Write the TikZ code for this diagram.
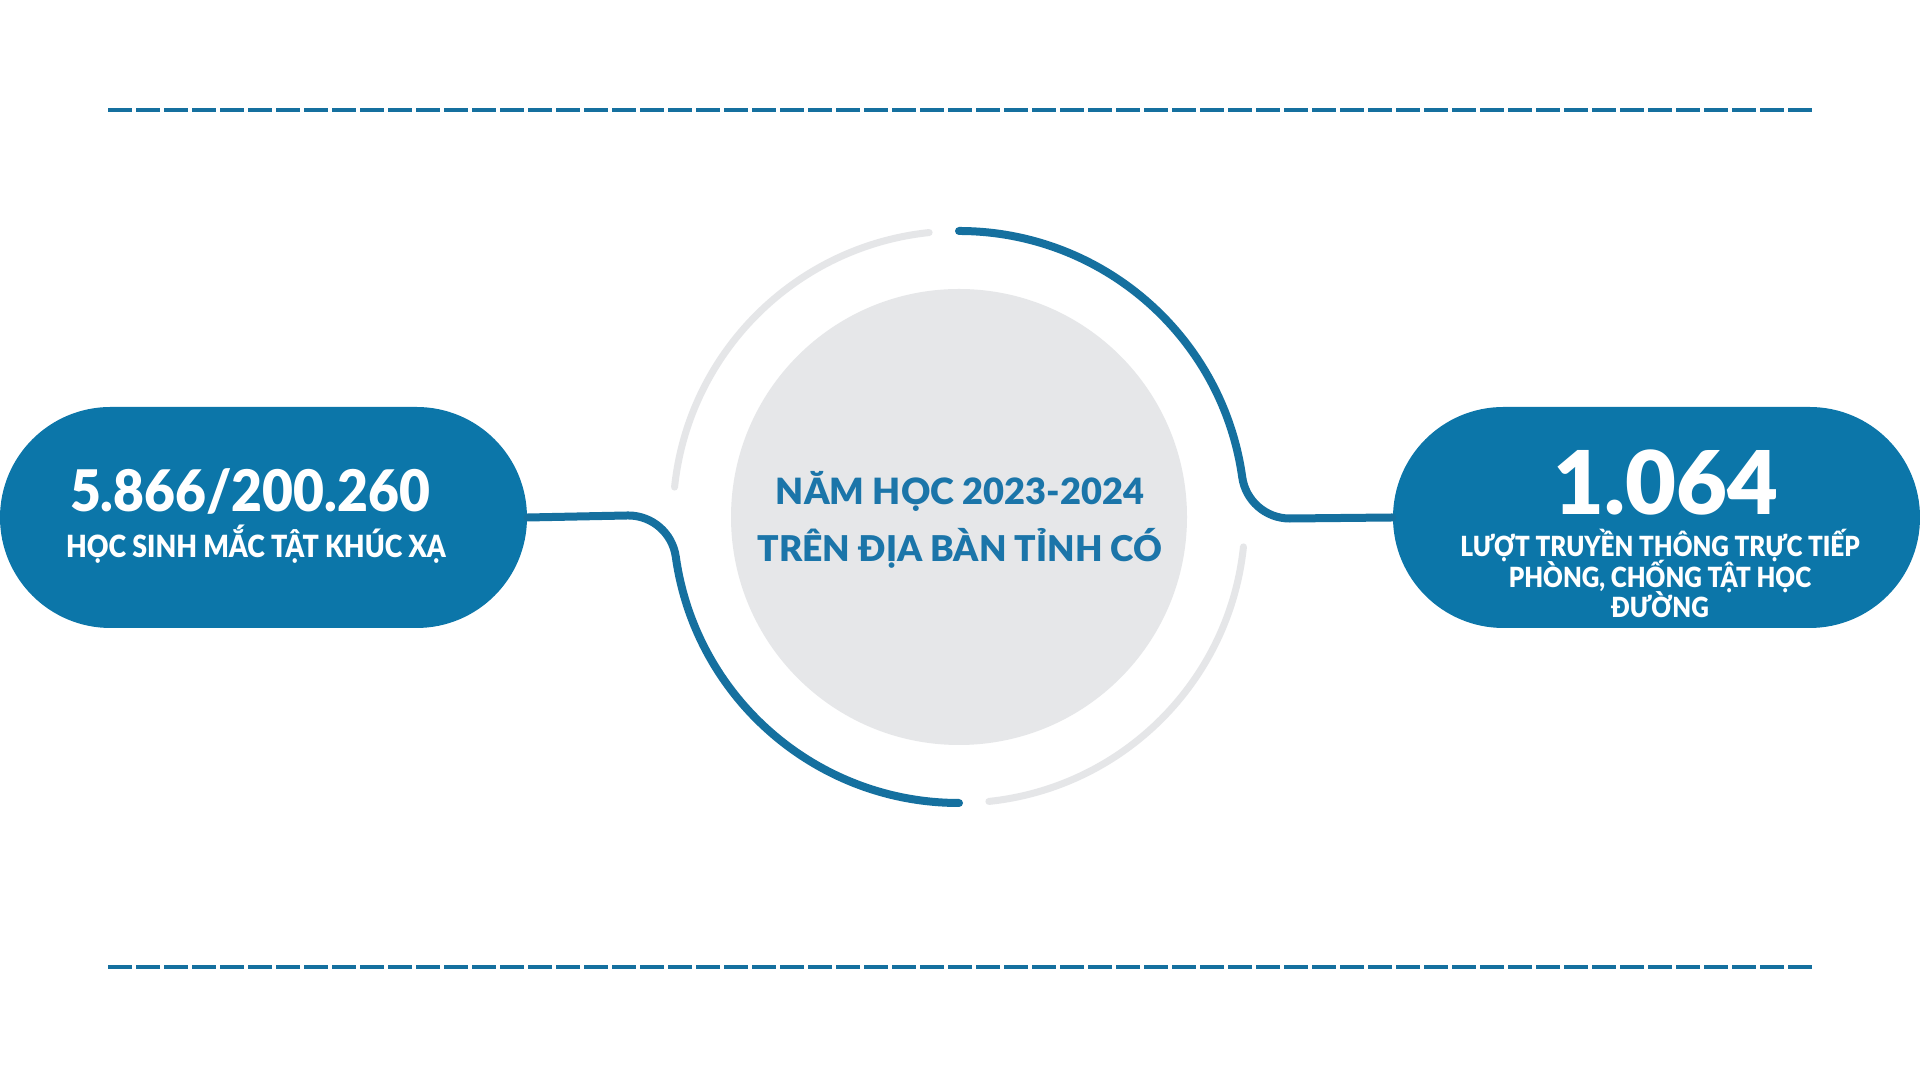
\documentclass[tikz,border=0pt]{standalone}
\usepackage{fontspec}
\setmainfont{Lato}[BoldFont={Lato Black}]
\newfontfamily\hubfont{Lato Black}
\newfontfamily\numfont{Lato Black}[FakeStretch=0.93]
\newfontfamily\capfont{Lato Black}[FakeStretch=0.875]
\usetikzlibrary{shapes.misc}
\definecolor{pillblue}{RGB}{12,118,169}
\definecolor{lineblue}{RGB}{21,112,159}
\definecolor{textblue}{RGB}{27,117,169}
\definecolor{discgray}{RGB}{230,231,233}
\definecolor{ringgray}{RGB}{229,230,232}
\lineskiplimit=-20pt
\begin{document}
\begin{tikzpicture}[pill/.style={rounded rectangle, fill=pillblue, minimum width=5.27cm, minimum height=2.21cm, inner sep=0pt},
        link/.style={draw=lineblue, line width=0.08cm, line cap=round},
        ring/.style={draw=ringgray, line width=0.07cm, line cap=round},
        rule/.style={draw=lineblue, line width=0.04cm, dash pattern=on 0.24cm off 0.04cm},
        label/.style={anchor=base, inner sep=0pt}]
        \useasboundingbox (0,0) rectangle (19.2,10.8);
        \fill[white] (0,0) rectangle (19.2,10.8);
        \draw[rule] (1.08,9.70) -- (18.12,9.70);
        \draw[rule] (1.08,1.13) -- (18.12,1.13);
        \node at (9.59,5.63) [circle, fill=discgray, minimum size=4.56cm] (hub) {};
        \node at (2.635,5.625) [pill] (leftpill) {};
        \node at (16.565,5.625) [pill] (rightpill) {};
        \draw[ring] (hub.center) ++(96:2.86) arc[start angle=96, end angle=174, radius=2.86];
        \draw[ring] (hub.center) ++(-6:2.86) arc[start angle=-6, end angle=-84, radius=2.86];
        \draw[link] (hub.center) ++(90:2.86) arc[start angle=90, end angle=8, radius=2.86]
                arc[start angle=188, end angle=270, radius=0.48] -- (rightpill.west);
        \draw[link] (hub.center) ++(270:2.86) arc[start angle=270, end angle=188, radius=2.86]
                arc[start angle=8, end angle=90, radius=0.48] -- (leftpill.east);
        \node at (9.60,5.75) [label, text=textblue, font=\hubfont\fontsize{10.3}{16.2}\selectfont] (year) {NĂM HỌC 2023-2024};
        \node at (9.60,5.18) [label, text=textblue, font=\hubfont\fontsize{10.1}{16.2}\selectfont] (area) {TRÊN ĐỊA BÀN TỈNH CÓ};
        \node at (2.50,5.68) [label, text=white, font=\numfont\fontsize{16.3}{18}\selectfont] (leftnum) {5.866/200.260};
        \node at (2.56,5.22) [label, text=white, font=\capfont\fontsize{8.7}{9}\selectfont] (lefttext) {HỌC SINH MẮC TẬT KHÚC XẠ};
        \node at (16.66,5.65) [label, text=white, font=\hubfont\fontsize{25}{26}\selectfont] (rightnum) {1.064};
        \node at (16.60,4.62) [label, text=white, align=center, font=\capfont\fontsize{7.9}{8.7}\selectfont] (righttext) {LƯỢT TRUYỀN THÔNG TRỰC TIẾP\\PHÒNG, CHỐNG TẬT HỌC\\ĐƯỜNG};
\end{tikzpicture}
\end{document}
